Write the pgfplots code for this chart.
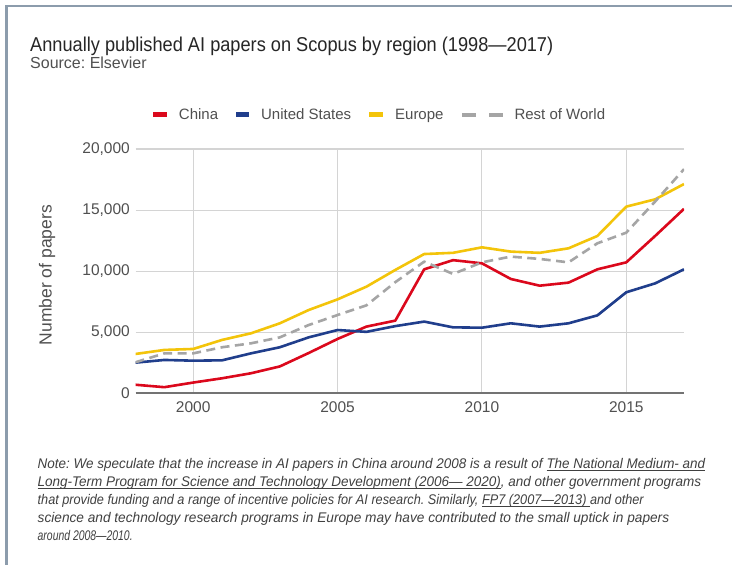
\documentclass[border=0pt]{standalone}
\usepackage{fontspec}
\setmainfont{Liberation Sans}
\newfontfamily\condfont[FakeStretch=0.91]{Liberation Sans}
\usepackage{graphicx}
\usepackage{pgfplots}
\pgfplotsset{compat=1.18}

\definecolor{cnred}{RGB}{219,8,28}
\definecolor{usblue}{RGB}{32,62,140}
\definecolor{euyellow}{RGB}{243,196,10}
\definecolor{rowgray}{RGB}{165,165,165}
\definecolor{framec}{RGB}{140,156,172}
\definecolor{txt}{RGB}{80,80,80}

% one note line, squeezed to the width it has in the reference
\newcommand\noteline[2]{\resizebox{#1}{\height}{#2}}
% thin underline close to the baseline
\newcommand\ul[1]{{\setbox0\hbox{#1}\rlap{\rule[-2bp]{\wd0}{0.7bp}}\box0}}

\begin{document}
\frenchspacing
\begin{tikzpicture}
\useasboundingbox (0,0) rectangle (732bp,565bp);
\fill[white] (0,0) rectangle (732bp,565bp);
\draw[framec, line width=2.5bp] (6.5bp,0) -- (6.5bp,559bp) -- (732bp,559bp);

% title block
\node[anchor=base west, inner sep=0, text=black!85] at (30bp,513.3bp)
  {\condfont\fontsize{20bp}{24bp}\selectfont Annually published AI papers on Scopus by region (1998—2017)};
\node[anchor=base west, inner sep=0, text=txt] at (30bp,496bp)
  {\fontsize{16bp}{19bp}\selectfont Source: Elsevier};

\begin{axis}[
    at={(135.5bp,171.7bp)}, anchor=south west,
    scale only axis,
    width=548.5bp, height=244.3bp,
    xmin=1998, xmax=2017, ymin=0, ymax=20000,
    xtick={2000,2005,2010,2015},
    ytick={5000,10000,15000,20000},
    extra y ticks={0},
    extra y tick style={major grid style={draw=black!55, line width=1.6bp}},
    scaled y ticks=false,
    grid=major,
    major grid style={draw=black!17, line width=1.1bp},
    axis line style={draw=none},
    major tick length=0pt,
    /pgf/number format/assume math mode=true,
    tick label style={font=\fontsize{15.5bp}{18bp}\selectfont, text=txt},
    yticklabel style={/pgf/number format/fixed, /pgf/number format/1000 sep={,}, inner sep=0pt, xshift=-5.5bp},
    xticklabel style={/pgf/number format/1000 sep={}, inner sep=0pt, yshift=-8bp},
    ylabel={Number of papers},
    ylabel style={at={(axis description cs:-0.1613,0.484)}, anchor=center,
                  font=\fontsize{17.5bp}{20bp}\selectfont, text=txt},
    legend columns=4,
    legend style={at={(0.4458,1.1404)}, anchor=center, draw=none, fill=none,
                  font=\fontsize{15bp}{18bp}\selectfont, text=txt,
                  /tikz/every odd column/.append style={column sep=10bp},
                  /tikz/every even column/.append style={column sep=16bp}},
    every axis plot/.append style={line width=2.6bp, line join=round},
]

% China
\addplot[cnred, legend image code/.code={\fill[cnred, draw=none] (0bp,-2.5bp) rectangle (14bp,2.5bp);}]
coordinates {
    (1998,700) (1999,500) (2000,880) (2001,1230) (2002,1640)
    (2003,2200) (2004,3300) (2005,4450) (2006,5460) (2007,5950)
    (2008,10150) (2009,10900) (2010,10640) (2011,9360) (2012,8810)
    (2013,9060) (2014,10150) (2015,10720) (2016,12880) (2017,15100)
};
\addlegendentry{China}

% United States
\addplot[usblue, legend image code/.code={\fill[usblue, draw=none] (0bp,-2.5bp) rectangle (13bp,2.5bp);}]
coordinates {
    (1998,2510) (1999,2730) (2000,2670) (2001,2700) (2002,3270)
    (2003,3770) (2004,4580) (2005,5180) (2006,5030) (2007,5500)
    (2008,5870) (2009,5400) (2010,5370) (2011,5730) (2012,5460)
    (2013,5730) (2014,6380) (2015,8270) (2016,9000) (2017,10150)
};
\addlegendentry{United States}

% Europe
\addplot[euyellow, legend image code/.code={\fill[euyellow, draw=none] (0bp,-2.5bp) rectangle (14bp,2.5bp);}]
coordinates {
    (1998,3220) (1999,3550) (2000,3630) (2001,4370) (2002,4910)
    (2003,5730) (2004,6820) (2005,7690) (2006,8730) (2007,10100)
    (2008,11400) (2009,11500) (2010,11950) (2011,11600) (2012,11500)
    (2013,11870) (2014,12880) (2015,15280) (2016,15880) (2017,17130)
};
\addlegendentry{Europe}

% Rest of World
\addplot[rowgray, dash pattern=on 9bp off 5.5bp,
    legend image code/.code={\fill[rowgray, draw=none, solid] (0bp,-2bp) rectangle (14bp,2bp);
                             \fill[rowgray, draw=none, solid] (27bp,-2bp) rectangle (41bp,2bp);}]
coordinates {
    (1998,2540) (1999,3270) (2000,3270) (2001,3770) (2002,4090)
    (2003,4580) (2004,5590) (2005,6410) (2006,7200) (2007,9100)
    (2008,10780) (2009,9770) (2010,10720) (2011,11190) (2012,11000)
    (2013,10720) (2014,12280) (2015,13150) (2016,15700) (2017,18350)
};
\addlegendentry{Rest of World}
\end{axis}

% note
\begin{scope}[every node/.style={anchor=base west, inner sep=0, text=black!75,
    font=\itshape\fontsize{14bp}{17bp}\selectfont}]
\node at (37.5bp,96bp) {\noteline{667.5bp}{Note: We speculate that the increase in AI papers in China around 2008 is a result of \ul{The National Medium- and}}};
\node at (37.5bp,78.2bp) {\noteline{663.5bp}{\ul{Long-Term Program for Science and Technology Development (2006— 2020)}, and other government programs}};
\node at (37.5bp,60.4bp) {\noteline{606bp}{that provide funding and a range of incentive policies for AI research. Similarly, \ul{FP7 (2007—2013) }and other}};
\node at (37.5bp,42.6bp) {\noteline{631.5bp}{science and technology research programs in Europe may have contributed to the small uptick in papers}};
\node at (37.5bp,24.8bp) {\noteline{95bp}{around 2008—2010.}};
\end{scope}
\end{tikzpicture}
\end{document}
